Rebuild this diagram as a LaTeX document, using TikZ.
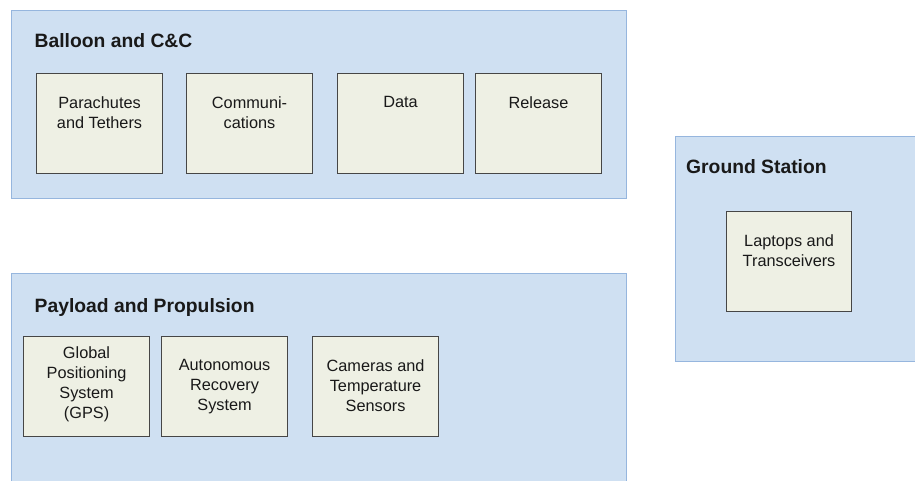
\documentclass[tikz,border=0pt]{standalone}
\usepackage{fontspec}
\setmainfont{Liberation Sans}
\usetikzlibrary{calc}
\definecolor{panelfill}{RGB}{207,224,242}
\definecolor{paneldraw}{RGB}{150,182,222}
\definecolor{boxfill}{RGB}{238,240,228}
\definecolor{boxdraw}{RGB}{70,70,70}
\definecolor{txt}{RGB}{25,25,25}
\begin{document}
\begin{tikzpicture}[x=1pt,y=-1pt,
 panel/.style={draw=paneldraw, fill=panelfill, line width=1pt, anchor=north west, inner sep=0pt},
 subbox/.style={draw=boxdraw, fill=boxfill, line width=1.1pt, minimum width=126pt, minimum height=100pt, anchor=north west, inner sep=0pt},
 paneltitle/.style={anchor=base west, inner sep=0pt, font=\fontsize{19.3}{23}\selectfont\bfseries, text=txt},
 boxtext/.style={anchor=north, inner sep=0pt, align=center, font=\fontsize{16.3}{20}\selectfont, text=txt}]
\useasboundingbox (0,0) rectangle (915,481);
\clip (0,0) rectangle (915,481);
% panels
\node[panel, minimum width=615pt, minimum height=188pt] (balloon) at (11,10) {};
\node[panel, minimum width=615pt, minimum height=230pt] (payload) at (11,273) {};
\node[panel, minimum width=260pt, minimum height=225pt] (ground) at (675,136) {};
% titles
\node[paneltitle] (tballoon) at (34.5,48) {Balloon and C\&C};
\node[paneltitle] (tpayload) at (34.5,312.5) {Payload and Propulsion};
\node[paneltitle] (tground) at (686,174) {Ground Station};
% balloon boxes
\node[subbox] (b1) at (36,73) {};
\node[subbox] (b2) at (186,73) {};
\node[subbox] (b3) at (337,73) {};
\node[subbox] (b4) at (475,73) {};
\node[boxtext] (tb1) at ($(b1.north)+(0,23)$) {Parachutes\\and Tethers};
\node[boxtext] (tb2) at ($(b2.north)+(0,23)$) {Communi-\\cations};
\node[boxtext] (tb3) at ($(b3.north)+(0,23)$) {Data};
\node[boxtext] (tb4) at ($(b4.north)+(0,23)$) {Release};
% payload boxes
\node[subbox] (p1) at (23,336) {};
\node[subbox] (p2) at (161,336) {};
\node[subbox] (p3) at (312,336) {};
\node[boxtext] (tp1) at ($(p1.north)+(0,10.5)$) {Global\\Positioning\\System\\(GPS)};
\node[boxtext] (tp2) at ($(p2.north)+(0,23.5)$) {Autonomous\\Recovery\\System};
\node[boxtext] (tp3) at ($(p3.north)+(0,23.5)$) {Cameras and\\Temperature\\Sensors};
% ground box
\node[subbox, minimum width=125pt] (g1) at (726,211) {};
\node[boxtext] (tg1) at ($(g1.north)+(0,23.5)$) {Laptops and\\Transceivers};
\end{tikzpicture}
\end{document}
